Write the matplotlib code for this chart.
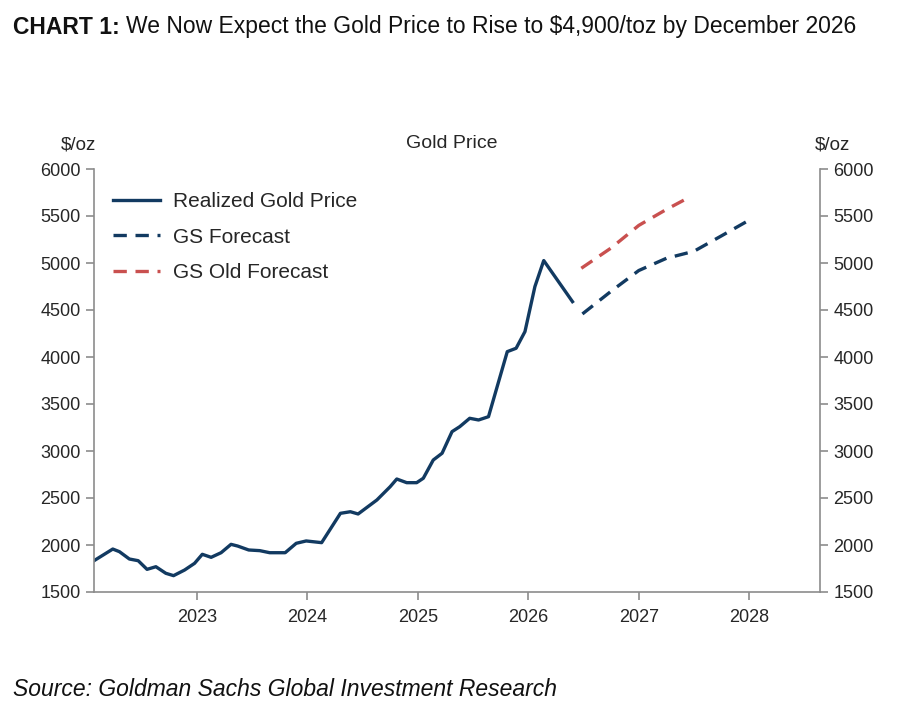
import numpy as np
import matplotlib.pyplot as plt

plt.rcParams['font.family'] = ['Liberation Sans', 'DejaVu Sans']

# Realized gold price (decimal year, $/oz)
real_t = [2022.07, 2022.24, 2022.30, 2022.39, 2022.47, 2022.55, 2022.63, 2022.72,
          2022.79, 2022.89, 2022.98, 2023.05, 2023.13, 2023.22, 2023.31, 2023.37,
          2023.47, 2023.57, 2023.66, 2023.80, 2023.90, 2023.99, 2024.13, 2024.30,
          2024.39, 2024.46, 2024.63, 2024.75, 2024.81, 2024.90, 2024.99, 2025.05,
          2025.14, 2025.22, 2025.31, 2025.38, 2025.47, 2025.55, 2025.64, 2025.81,
          2025.89, 2025.97, 2026.06, 2026.14, 2026.40]
real_v = [1833, 1957, 1929, 1851, 1833, 1741, 1769, 1699,
          1674, 1734, 1805, 1901, 1869, 1918, 2007, 1989,
          1947, 1940, 1918, 1918, 2018, 2043, 2025, 2337,
          2354, 2330, 2479, 2620, 2702, 2663, 2663, 2710,
          2904, 2976, 3206, 3259, 3348, 3330, 3365, 4057,
          4093, 4270, 4749, 5026, 4589]

# GS forecast
fc_t = [2026.49, 2026.75, 2027.00, 2027.25, 2027.50, 2027.75, 2027.99]
fc_v = [4458, 4700, 4920, 5050, 5125, 5290, 5450]

# GS old forecast
old_t = [2026.48, 2026.75, 2027.00, 2027.25, 2027.45]
old_v = [4944, 5160, 5400, 5570, 5695]

years = [2023, 2024, 2025, 2026, 2027, 2028]
yticks = [1500, 2000, 2500, 3000, 3500, 4000, 4500, 5000, 5500, 6000]

navy = '#123a61'
red = '#c9504f'
spine_c = '#8c8c8c'
txt_c = '#262626'

fig = plt.figure(figsize=(8.98, 7.21), dpi=100)
ax = fig.add_axes([94/898, 1-592/721, (820-94)/898, (592-169)/721])

ax.plot(real_t, real_v, color=navy, lw=2.4, label='Realized Gold Price')
ax.plot(fc_t, fc_v, color=navy, lw=2.4, dashes=(4, 2.6), label='GS Forecast')
ax.plot(old_t, old_v, color=red, lw=2.4, dashes=(4, 2.6), label='GS Old Forecast')

ax.set_xlim(2022.07, 2028.64)
ax.set_ylim(1500, 6000)
ax.set_xticks(years)
ax.set_xticklabels([str(y) for y in years])
ax.set_yticks(yticks)

ax2 = ax.twinx()
ax2.set_ylim(1500, 6000)
ax2.set_yticks(yticks)

for a in (ax, ax2):
    a.spines['top'].set_visible(False)
    for s in ('left', 'right', 'bottom'):
        a.spines[s].set_color(spine_c)
        a.spines[s].set_linewidth(1.2)
    a.tick_params(colors=spine_c, labelcolor=txt_c, labelsize=13, length=6, width=1.2)
ax.spines['right'].set_visible(False)
ax2.spines['left'].set_visible(False)
ax2.spines['bottom'].set_visible(False)
ax.tick_params(axis='x', pad=6)

leg = ax.legend(loc='upper left', bbox_to_anchor=(0.0, 0.99), frameon=False,
                fontsize=15, handlelength=2.25, handletextpad=0.63, labelspacing=0.8,
                borderaxespad=0.5)
for t in leg.get_texts():
    t.set_color(txt_c)

fig.text(452/898, 1-143/721, 'Gold Price', ha='center', va='center', fontsize=14, color=txt_c)
fig.text(78/898, 1-145/721, '$/oz', ha='center', va='center', fontsize=13.5, color=txt_c)
fig.text(832/898, 1-145/721, '$/oz', ha='center', va='center', fontsize=13.5, color=txt_c)

t1 = fig.text(13/898, 1-27/721, 'CHART 1:', ha='left', va='center', fontsize=16.5,
              fontweight='bold', color='#111111')
fig.canvas.draw()
bb = t1.get_window_extent()
fig.text((bb.x1 + 6)/898, 1-27/721,
         'We Now Expect the Gold Price to Rise to $4,900/toz by December 2026',
         ha='left', va='center', fontsize=16.5, color='#111111')
fig.text(13/898, 1-690/721, 'Source: Goldman Sachs Global Investment Research',
         ha='left', va='center', fontsize=16.5, style='italic', color='#111111')

fig.savefig('out.png', dpi=100)
